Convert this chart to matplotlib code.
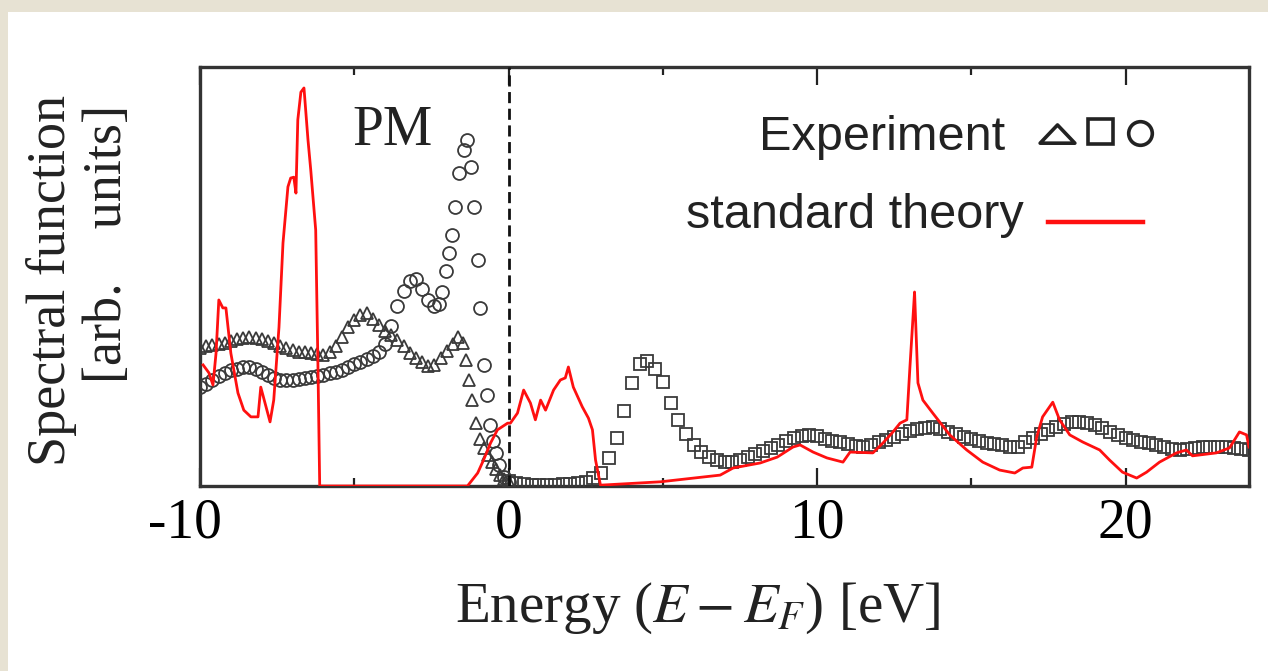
import matplotlib
matplotlib.use("Agg")
import matplotlib.pyplot as plt
from matplotlib.patches import Rectangle
from matplotlib.lines import Line2D
from matplotlib.path import Path
from matplotlib.transforms import ScaledTranslation

plt.rcParams['font.family'] = ['Liberation Serif', 'DejaVu Serif']
plt.rcParams['mathtext.fontset'] = 'stix'

W, H = 1268, 671

# experiment: triangles (upper band on the left)
tri_e = [-10.0, -9.8, -9.6, -9.4, -9.2, -9.0, -8.8, -8.6, -8.4, -8.2, -8.0, -7.8, -7.6, -7.4,
         -7.2, -7.0, -6.8, -6.6, -6.4, -6.2, -6.0, -5.8, -5.6, -5.4, -5.2, -5.0, -4.8, -4.6,
         -4.4, -4.2, -4.0, -3.8, -3.6, -3.4, -3.2, -3.0, -2.8, -2.6, -2.4, -2.2, -2.0, -1.8,
         -1.65, -1.49, -1.39, -1.29, -1.18, -1.05, -0.93, -0.80, -0.68, -0.55, -0.42, -0.28,
         -0.14, 0.0]
tri_y = [0.330, 0.333, 0.336, 0.339, 0.341, 0.345, 0.350, 0.354, 0.356, 0.354, 0.350, 0.346,
         0.341, 0.335, 0.329, 0.324, 0.321, 0.319, 0.317, 0.315, 0.313, 0.320, 0.335, 0.355,
         0.379, 0.396, 0.408, 0.412, 0.398, 0.384, 0.370, 0.360, 0.349, 0.334, 0.318, 0.305,
         0.296, 0.287, 0.288, 0.305, 0.322, 0.340,
         0.356, 0.341, 0.301, 0.253, 0.205, 0.150, 0.113, 0.090, 0.075, 0.058, 0.040, 0.026,
         0.016, 0.010]

# experiment: circles (lower band, big peak below E_F)
circ_e = [-10.0, -9.8, -9.6, -9.4, -9.2, -9.0, -8.8, -8.6, -8.4, -8.2, -8.0, -7.8, -7.6, -7.4,
          -7.2, -7.0, -6.8, -6.6, -6.4, -6.2, -6.0, -5.8, -5.6, -5.4, -5.2, -5.0, -4.8, -4.6,
          -4.4, -4.2, -4.0, -3.8, -3.6, -3.4, -3.2, -3.0, -2.8, -2.6, -2.4,
          -2.25, -2.15, -2.04, -1.93, -1.82, -1.72, -1.61, -1.45, -1.34, -1.23, -1.12, -0.99,
          -0.91, -0.80, -0.69, -0.60, -0.51, -0.42, -0.32, -0.16, 0.0]
circ_y = [0.236, 0.244, 0.254, 0.263, 0.270, 0.276, 0.280, 0.283, 0.283, 0.279, 0.272, 0.265,
          0.258, 0.254, 0.253, 0.253, 0.255, 0.257, 0.259, 0.262, 0.265, 0.269, 0.273, 0.278,
          0.283, 0.290, 0.297, 0.303, 0.311, 0.321, 0.338, 0.382, 0.430, 0.465, 0.490, 0.494,
          0.470, 0.445, 0.429,
          0.435, 0.464, 0.512, 0.555, 0.599, 0.667, 0.746, 0.802, 0.826, 0.762, 0.667, 0.539,
          0.424, 0.289, 0.217, 0.146, 0.108, 0.079, 0.050, 0.021, 0.010]

# experiment: squares (above E_F)
sq_e = [0.00, 0.25, 0.50, 0.75, 1.00, 1.25, 1.50, 1.75, 2.00, 2.25, 2.50, 2.75,
        3.00, 3.25, 3.50, 3.75, 4.00, 4.25, 4.50, 4.75, 5.00, 5.25, 5.50, 5.75,
        6.00, 6.25, 6.50, 6.75, 7.00, 7.25, 7.50, 7.75, 8.00, 8.25, 8.50, 8.75,
        9.00, 9.25, 9.50, 9.75, 10.00, 10.25, 10.50, 10.75, 11.00, 11.25, 11.50, 11.75,
        12.00, 12.25, 12.50, 12.75, 13.00, 13.25, 13.50, 13.75, 14.00, 14.25, 14.50, 14.75,
        15.00, 15.25, 15.50, 15.75, 16.00, 16.25, 16.50, 16.75, 17.00, 17.25, 17.50, 17.75,
        18.00, 18.25, 18.50, 18.75, 19.00, 19.25, 19.50, 19.75, 20.00, 20.25, 20.50, 20.75,
        21.00, 21.25, 21.50, 21.75, 22.00, 22.25, 22.50, 22.75, 23.00, 23.25, 23.50, 23.75,
        24.00]
sq_y = [0.012, 0.006, 0.004, 0.003, 0.003, 0.003, 0.003, 0.004, 0.005, 0.007, 0.010, 0.018,
        0.032, 0.066, 0.115, 0.180, 0.245, 0.292, 0.298, 0.280, 0.248, 0.198, 0.158, 0.124,
        0.098, 0.080, 0.070, 0.063, 0.058, 0.057, 0.063, 0.070, 0.077, 0.083, 0.091, 0.099,
        0.107, 0.115, 0.119, 0.122, 0.119, 0.113, 0.107, 0.104, 0.100, 0.095, 0.094, 0.099,
        0.104, 0.110, 0.117, 0.124, 0.132, 0.136, 0.139, 0.141, 0.137, 0.130, 0.123, 0.117,
        0.112, 0.107, 0.103, 0.100, 0.097, 0.094, 0.094, 0.104, 0.115, 0.125, 0.133, 0.141,
        0.148, 0.152, 0.153, 0.151, 0.145, 0.138, 0.130, 0.121, 0.115, 0.110, 0.106, 0.103,
        0.098, 0.093, 0.089, 0.087, 0.088, 0.091, 0.093, 0.093, 0.093, 0.092, 0.090, 0.088,
        0.086]

# standard theory (red line)
red_e = [-9.90, -9.71, -9.58, -9.48, -9.39, -9.26, -9.16, -9.00, -8.77, -8.58, -8.35, -8.12,
         -8.03, -7.86, -7.73, -7.61, -7.44, -7.31, -7.15, -7.06, -6.96, -6.89, -6.83, -6.73,
         -6.63, -6.50, -6.41, -6.25, -6.18, -6.12, -1.33,
         -1.00, -0.81, -0.58, -0.36, -0.03, 0.06, 0.29, 0.49, 0.71, 0.87, 1.04, 1.20, 1.46,
         1.68, 1.84, 1.94, 2.10, 2.39, 2.59, 2.72, 2.82, 2.98,
         4.92, 6.86, 7.28, 8.16, 8.71, 9.22, 9.45, 9.87, 10.32, 10.84, 11.07, 11.81, 12.14,
         12.46, 12.69, 12.91, 13.01, 13.11, 13.16, 13.27, 13.43, 13.75, 14.30, 14.85, 15.37,
         15.92, 16.41, 16.67, 16.96, 17.12, 17.31, 17.64, 17.86, 18.19, 18.61, 19.16, 19.48,
         19.90, 20.36, 20.68, 21.10, 21.65, 21.97, 22.17, 22.94, 23.37, 23.69, 23.92, 24.00]
red_y = [0.289, 0.270, 0.241, 0.317, 0.444, 0.425, 0.425, 0.317, 0.222, 0.181, 0.165, 0.165,
         0.236, 0.189, 0.153, 0.205, 0.379, 0.580, 0.714, 0.735, 0.737, 0.699, 0.874, 0.940,
         0.950, 0.826, 0.754, 0.611, 0.301, 0.0, 0.0,
         0.031, 0.062, 0.103, 0.134, 0.150, 0.150, 0.174, 0.229, 0.198, 0.158, 0.205, 0.181,
         0.229, 0.253, 0.258, 0.284, 0.236, 0.189, 0.162, 0.134, 0.062, 0.002,
         0.010, 0.026, 0.043, 0.055, 0.069, 0.093, 0.098, 0.081, 0.067, 0.057, 0.081, 0.079,
         0.103, 0.129, 0.150, 0.158, 0.284, 0.403, 0.463, 0.246, 0.205, 0.174, 0.122, 0.086,
         0.057, 0.038, 0.031, 0.043, 0.045, 0.117, 0.165, 0.200, 0.158, 0.122, 0.105, 0.086,
         0.062, 0.033, 0.019, 0.033, 0.057, 0.079, 0.086, 0.072, 0.079, 0.091, 0.129, 0.122,
         0.093]

xticks = [-10, 0, 10, 20]
xtick_labels = ['-10', '0', '10', '20']


def fxy(x, y):
    # pixel position -> figure fraction
    return x / W, 1 - y / H


fig = plt.figure(figsize=(W / 100, H / 100), dpi=100)
fig.patch.set_facecolor('#e7e2d3')
fig.patches.append(Rectangle((8 / W, 0), 1, 1 - 12 / H, transform=fig.transFigure,
                             facecolor='white', edgecolor='none', zorder=-10))

ax = fig.add_axes([200 / W, 1 - 486 / H, 1049 / W, 419 / H])
ax.set_zorder(2)
ax.set_facecolor('white')

mk = dict(ls='none', mfc='none', mec='#3a3a3a', mew=1.3)
ax.plot(sq_e, sq_y, marker='s', ms=8.3, **mk, zorder=3)
ax.plot(circ_e, circ_y, marker='o', ms=9.3, **mk, zorder=3)
ax.plot(tri_e, tri_y, marker='^', ms=8, **mk, zorder=3)
ax.plot(red_e, red_y, color='#ff1010', lw=2.0, zorder=4)
ax.axvline(0, color='#111111', lw=2.0, dashes=(4, 2), zorder=5)

ax.set_xlim(-10, 24)
ax.set_ylim(0, 1)
ax.set_xticks(xticks)
ax.set_xticklabels(xtick_labels)
ax.set_xticks([-5, 5, 15], minor=True)
ax.set_yticks([])
ax.tick_params(axis='x', which='both', direction='in', top=True, labelsize=40,
               pad=8, color='#222222', width=1.6)
ax.tick_params(axis='x', which='major', length=13)
ax.tick_params(axis='x', which='minor', length=6)
for s in ax.spines.values():
    s.set_linewidth(2.4)
    s.set_color('#333333')

# the "-10" label sits a little left of its tick in the original
lab0 = ax.xaxis.get_major_ticks()[0].label1
lab0.set_transform(lab0.get_transform() + ScaledTranslation(-0.15, 0, fig.dpi_scale_trans))

ax.text(*fxy(352, 145), 'PM', transform=fig.transFigure, fontsize=40,
        color='#222222', ha='left', va='baseline')

# legend drawn by hand like the original
sans = ['Liberation Sans', 'DejaVu Sans']
fig.text(*fxy(1005, 150), 'Experiment', family=sans, fontsize=35, color='#222222',
         ha='right', va='baseline', zorder=5)
fig.text(*fxy(1024, 228), 'standard theory', family=sans, fontsize=35, color='#222222',
         ha='right', va='baseline', zorder=5)
flat_tri = Path([(-1, -0.5), (1, -0.5), (0, 0.55), (-1, -0.5)], closed=True)
lg = dict(transform=fig.transFigure, ls='none', mfc='none', mec='#222222', mew=2.6, zorder=5)
fig.add_artist(Line2D([1057 / W], [1 - 134 / H], marker=flat_tri, ms=25, **lg))
fig.add_artist(Line2D([1100 / W], [1 - 131 / H], marker='s', ms=18, **lg))
fig.add_artist(Line2D([1140 / W], [1 - 133 / H], marker='o', ms=17, **lg))
fig.add_artist(Line2D([1048 / W, 1143 / W], [1 - 222 / H, 1 - 222 / H],
                      transform=fig.transFigure, color='#ff1010', lw=3.2, zorder=5))

fig.text(*fxy(698, 622), r'Energy ($E - E_F$) [eV]', fontsize=41, color='#222222',
         ha='center', va='baseline')
fig.text(*fxy(52, 280), 'Spectral function', fontsize=39, color='#222222',
         rotation=90, ha='center', va='center')
fig.text(*fxy(108, 244), '[arb.    units]', fontsize=39, color='#222222',
         rotation=90, ha='center', va='center')

fig.savefig('out.png', dpi=100, facecolor=fig.get_facecolor())
